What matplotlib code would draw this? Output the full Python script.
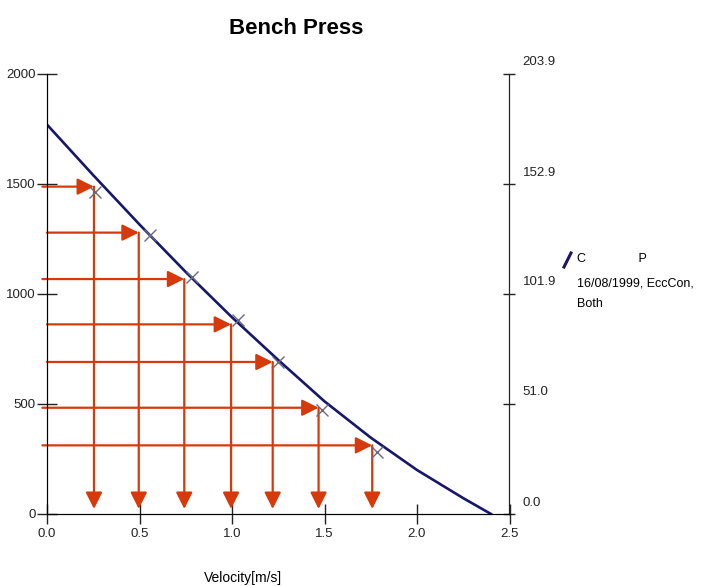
import numpy as np
import matplotlib.pyplot as plt
import matplotlib.transforms as mtransforms
from matplotlib.lines import Line2D

plt.rcParams['font.family'] = ['Liberation Sans', 'DejaVu Sans']

# fitted force-velocity curve
curve_v = [0.0, 0.25, 0.5, 0.75, 1.0, 1.25, 1.5, 1.75, 2.0, 2.25, 2.4]
curve_f = [1770, 1540, 1316, 1100, 894, 700, 512, 347, 200, 72, 0]

# measured points (crosses)
mark_v = [0.259, 0.557, 0.784, 1.032, 1.249, 1.486, 1.784]
mark_f = [1464, 1268, 1077, 882, 691, 473, 282]

# red reading arrows: force level -> velocity
arrow_f = [1488, 1279, 1068, 862, 691, 483, 312]
arrow_v = [0.254, 0.496, 0.742, 0.995, 1.220, 1.468, 1.758]
arrow_start = [-0.025, 0.0, -0.025, 0.0, 0.0, -0.025, -0.025]
arrow_end_f = 23

x_ticks = [0.0, 0.5, 1.0, 1.5, 2.0, 2.5]
y_ticks = [0, 500, 1000, 1500, 2000]
kg_ticks = [f / 9.81 for f in y_ticks]

red = '#d63a0a'
navy = '#16166a'

fig = plt.figure(figsize=(7.08, 5.86), dpi=100)
ax = fig.add_axes([47 / 708, 1 - 514 / 586, 462.5 / 708, 440 / 586])

ax.plot(curve_v, curve_f, color=navy, lw=1.9, zorder=3)
ax.plot(mark_v, mark_f, 'x', color='#6a6a80', ms=9, mew=1.0, zorder=4)

astyle = '-|>,head_length=0.5,head_width=0.25'
for v0, v, f in zip(arrow_start, arrow_v, arrow_f):
    ax.annotate('', xy=(v, f), xytext=(v0, f), annotation_clip=False,
                arrowprops=dict(arrowstyle=astyle, mutation_scale=20, color=red,
                                lw=1.6, shrinkA=0, shrinkB=0), zorder=2)
    ax.annotate('', xy=(v, arrow_end_f), xytext=(v, f),
                arrowprops=dict(arrowstyle=astyle, mutation_scale=20, color=red,
                                lw=1.6, shrinkA=0, shrinkB=0), zorder=2)

ax.set_xlim(0, 2.5)
ax.set_ylim(0, 2000)
ax.set_xticks(x_ticks)
ax.set_xticklabels([f'{t:.1f}' for t in x_ticks])
ax.set_yticks(y_ticks)
ax.tick_params(direction='inout', length=14, width=1, labelsize=9.5, pad=3, colors='#222222')
ax.tick_params(axis='y', length=14, pad=1)
ax.spines['top'].set_visible(False)
for s in ['left', 'bottom', 'right']:
    ax.spines[s].set_color('#222222')

ax2 = ax.twinx()
ax2.set_ylim(0, 2000 / 9.81)
ax2.set_yticks(kg_ticks)
ax2.set_yticklabels([f'{t:.1f}' for t in kg_ticks])
ax2.tick_params(direction='inout', length=9, width=1, labelsize=9.5, pad=5, colors='#222222')
ax2.spines['top'].set_visible(False)
ax2.spines['right'].set_color('#222222')
offset = mtransforms.ScaledTranslation(0, 13 / 100, fig.dpi_scale_trans)
for lab in ax2.get_yticklabels():
    lab.set_transform(lab.get_transform() + offset)

ax.set_xlabel('Velocity[m/s]', fontsize=10)
ax.xaxis.set_label_coords((243 - 47) / 462.5, (514 - 578) / 440)
ax.xaxis.label.set_va('center')

fig.text(296 / 708, 1 - 28 / 586, 'Bench Press', ha='center', va='center',
         fontsize=16, fontweight='bold')

# legend entry
fig.add_artist(Line2D([564 / 708, 571 / 708], [1 - 267 / 586, 1 - 253 / 586],
                      color=navy, lw=2.2))
fig.text(577 / 708, 1 - 259 / 586, 'C               P', fontsize=9, va='center')
fig.text(577 / 708, 1 - 283 / 586, '16/08/1999, EccCon,', fontsize=9, va='center')
fig.text(577 / 708, 1 - 304 / 586, 'Both', fontsize=9, va='center')

fig.savefig('out.png', dpi=100, facecolor='white')
